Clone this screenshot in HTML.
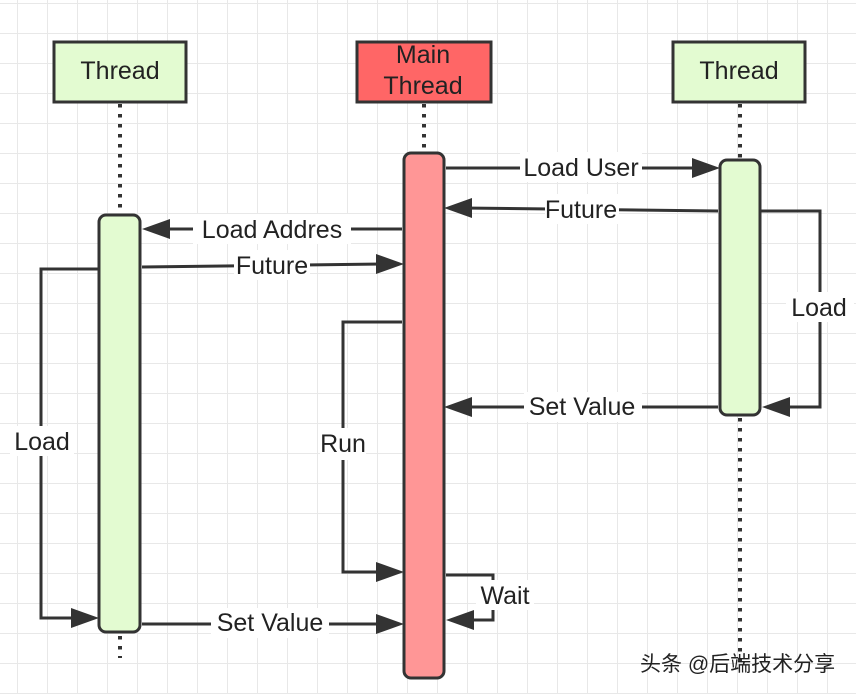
<!DOCTYPE html>
<html><head><meta charset="utf-8"><style>
html,body{margin:0;padding:0;background:#fff;}
svg{display:block;}
text{font-family:"Liberation Sans","DejaVu Sans","Noto Sans CJK SC",sans-serif;fill:#222;}
</style></head><body>
<svg width="856" height="694" viewBox="0 0 856 694" xmlns="http://www.w3.org/2000/svg">
<defs>
<pattern id="g" x="17" y="3" width="30" height="30" patternUnits="userSpaceOnUse">
<path d="M0 0H30M0 0V30" stroke="#e8e8e8" stroke-width="2" fill="none"/>
</pattern>
</defs>
<rect width="856" height="694" fill="url(#g)"/>
<g stroke="#333" stroke-width="4" stroke-dasharray="3.5 6.5" stroke-linecap="butt">
<line x1="120" y1="104" x2="120" y2="214"/>
<line x1="120" y1="636" x2="120" y2="658"/>
<line x1="424" y1="104" x2="424" y2="152"/>
<line x1="740" y1="104" x2="740" y2="158"/>
<line x1="740" y1="418" x2="740" y2="664"/>
</g>
<rect x="54" y="42" width="132" height="60" fill="#e3fbd1" stroke="#333" stroke-width="3"/>
<text x="120" y="79" font-size="25" text-anchor="middle">Thread</text>
<rect x="357" y="42" width="134" height="60" fill="#ff6666" stroke="#333" stroke-width="3"/>
<text x="423" y="63" font-size="25" text-anchor="middle">Main</text>
<text x="423" y="94" font-size="25" text-anchor="middle">Thread</text>
<rect x="673" y="42" width="132" height="60" fill="#e3fbd1" stroke="#333" stroke-width="3"/>
<text x="739" y="79" font-size="25" text-anchor="middle">Thread</text>
<g stroke="#333" stroke-width="3" fill="none">
<line x1="446" y1="168" x2="700" y2="168"/>
<line x1="718" y1="211" x2="462" y2="208"/>
<path d="M760 211H820V407H782"/>
<line x1="718" y1="407" x2="462" y2="407"/>
<line x1="402" y1="229" x2="160" y2="229"/>
<line x1="142" y1="267" x2="384" y2="264"/>
<path d="M99 269H41V618H80"/>
<path d="M402 322H343V572H384"/>
<path d="M446 575H493V620H462"/>
<line x1="142" y1="624" x2="384" y2="624"/>
</g>
<g fill="#333">
<polygon points="720,168 692,158 692,178"/>
<polygon points="444,208 472,198 472,218"/>
<polygon points="762,407 790,397 790,417"/>
<polygon points="444,407 472,397 472,417"/>
<polygon points="142,229 170,219 170,239"/>
<polygon points="404,264 376,254 376,274"/>
<polygon points="99,618 71,608 71,628"/>
<polygon points="404,572 376,562 376,582"/>
<polygon points="446,620 474,610 474,630"/>
<polygon points="404,624 376,614 376,634"/>
</g>
<rect x="99" y="215" width="41" height="417" rx="7" fill="#e3fbd1" stroke="#333" stroke-width="3"/>
<rect x="404" y="153" width="40" height="525" rx="7" fill="#ff9696" stroke="#333" stroke-width="3"/>
<rect x="720" y="160" width="40" height="255" rx="7" fill="#e3fbd1" stroke="#333" stroke-width="3"/>
<g font-size="25" text-anchor="middle">
<rect x="520" y="152" width="122" height="30" fill="#fff"/>
<text x="581" y="176">Load User</text>
<rect x="545" y="194" width="74" height="30" fill="#fff"/>
<text x="581" y="218">Future</text>
<rect x="786" y="292" width="68" height="30" fill="#fff"/>
<text x="819" y="316">Load</text>
<rect x="524" y="392" width="118" height="30" fill="#fff"/>
<text x="582" y="415">Set Value</text>
<rect x="193" y="214" width="158" height="30" fill="#fff"/>
<text x="272" y="238">Load Addres</text>
<rect x="234" y="250" width="76" height="30" fill="#fff"/>
<text x="272" y="274">Future</text>
<rect x="10" y="426" width="64" height="30" fill="#fff"/>
<text x="42" y="450">Load</text>
<rect x="320" y="428" width="46" height="32" fill="#fff"/>
<text x="343" y="452">Run</text>
<rect x="476" y="580" width="58" height="30" fill="#fff"/>
<text x="505" y="604">Wait</text>
<rect x="211" y="608" width="118" height="30" fill="#fff"/>
<text x="270" y="631">Set Value</text>
</g>
<text x="640" y="671" font-size="21" fill="#222" style="font-family:'Liberation Sans','Noto Sans CJK SC',sans-serif">头条 @后端技术分享</text>
</svg>
</body></html>
